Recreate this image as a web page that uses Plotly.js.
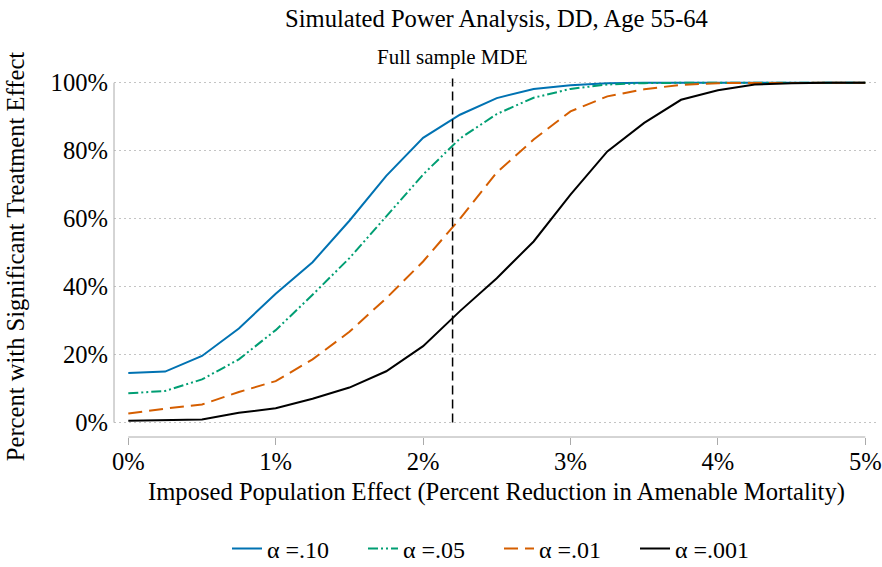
<!DOCTYPE html>
<html>
<head>
<meta charset="utf-8">
<script src="https://cdn.plot.ly/plotly-3.0.1.min.js"></script>
<style>html,body{margin:0;padding:0;background:#fff}#chart{width:882px;height:567px}</style>
</head>
<body>
<div id="chart"></div>
<script>
// Imposed population effect (percent reduction)
const effect = [0, 0.25, 0.5, 0.75, 1, 1.25, 1.5, 1.75, 2, 2.25, 2.5, 2.75, 3, 3.25, 3.5, 3.75, 4, 4.25, 4.5, 4.75, 5];
// Percent with significant treatment effect
const alpha10  = [14.6, 15.0, 19.6, 27.7, 37.9, 47.2, 59.4, 72.6, 83.8, 90.6, 95.5, 98.2, 99.3, 99.9, 100, 100, 100, 100, 100, 100, 100];
const alpha05  = [8.6, 9.3, 12.7, 18.6, 27.2, 37.6, 48.4, 60.7, 73.0, 83.6, 90.8, 95.6, 98.2, 99.5, 99.9, 100, 100, 100, 100, 100, 100];
const alpha01  = [2.65, 4.1, 5.3, 9.0, 12.2, 18.6, 26.7, 36.6, 47.4, 60.0, 73.6, 83.3, 91.6, 96.0, 98.1, 99.4, 99.9, 100, 100, 100, 100];
const alpha001 = [0.5, 0.6, 0.9, 2.9, 4.2, 7.0, 10.3, 15.1, 22.5, 32.8, 42.5, 53.3, 67.1, 79.8, 88.2, 95.0, 97.8, 99.5, 99.9, 100, 100];
const seriesNames = ['α =.10', 'α =.05', 'α =.01', 'α =.001'];
const mde = 2.2;
const mdeLabel = 'Full sample MDE';
const xTicks = [0, 1, 2, 3, 4, 5];
const yTicks = [0, 20, 40, 60, 80, 100];

const xRange = [-0.097, 5.093];
const yRange = [-4.25, 102];
const font = '"Liberation Serif", serif';
const fs = 24.6;

const px = v => (v - xRange[0]) / (xRange[1] - xRange[0]);
const py = v => (v - yRange[0]) / (yRange[1] - yRange[0]);

const traces = [
  {x: effect, y: alpha10, name: seriesNames[0], line: {color: '#0072B2', width: 2, dash: 'solid'}},
  {x: effect, y: alpha05, name: seriesNames[1], line: {color: '#009E73', width: 2, dash: '10px,3px,2px,3px,2px,3px'}},
  {x: effect, y: alpha01, name: seriesNames[2], line: {color: '#D55E00', width: 2, dash: '14px,7px'}},
  {x: effect, y: alpha001, name: seriesNames[3], line: {color: '#000000', width: 2, dash: 'solid'}}
].map(t => Object.assign({type: 'scatter', mode: 'lines', hoverinfo: 'skip'}, t));

const layout = {
  width: 882, height: 567,
  margin: {l: 114, r: 3, t: 76, b: 130, pad: 0},
  paper_bgcolor: '#fff', plot_bgcolor: '#fff',
  font: {family: font, size: fs, color: '#000'},
  title: {text: 'Simulated Power Analysis, DD, Age 55-64', font: {family: font, size: fs, color: '#000'},
          x: 0.5, xref: 'paper', xanchor: 'center', y: 1 - 18/567, yref: 'container', yanchor: 'middle'},
  xaxis: {
    range: xRange, tickvals: xTicks, ticktext: xTicks.map(v => v + '%'),
    showgrid: false, zeroline: false, showline: false,
    ticks: 'outside', ticklen: 7, tickwidth: 1, tickcolor: '#aaaaaa', ticklabelstandoff: -5,
    tickfont: {family: font, size: fs, color: '#000'},
    title: {text: 'Imposed Population Effect (Percent Reduction in Amenable Mortality)', font: {family: font, size: fs, color: '#000'}, standoff: 9},
    automargin: false, fixedrange: true
  },
  yaxis: {
    range: yRange, tickvals: yTicks, ticktext: yTicks.map(v => v + '%'),
    showgrid: true, gridcolor: '#c4c4c4', gridwidth: 1, griddash: '1.5px,3.5px',
    zeroline: false, showline: false, ticks: '', ticklabelstandoff: 5,
    tickfont: {family: font, size: fs, color: '#000'},
    title: {text: 'Percent with Significant Treatment Effect', font: {family: font, size: fs, color: '#000'}, standoff: 18},
    automargin: false, fixedrange: true
  },
  showlegend: true,
  legend: {
    orientation: 'h', xref: 'container', yref: 'container',
    x: 499/882, xanchor: 'center', y: (567-549)/567, yanchor: 'middle',
    font: {family: font, size: 24, color: '#000'},
    entrywidth: 91, entrywidthmode: 'pixels', bgcolor: 'rgba(0,0,0,0)', borderwidth: 0
  },
  shapes: [
    {type: 'line', xref: 'paper', yref: 'paper', x0: px(0), x1: px(5), y0: 0, y1: 0, line: {color: '#aaaaaa', width: 1}},
    {type: 'line', xref: 'paper', yref: 'paper', x0: 0, x1: 0, y0: py(0), y1: py(100), line: {color: '#aaaaaa', width: 1}},
    {type: 'line', xref: 'x', yref: 'y', x0: mde, x1: mde, y0: 0, y1: 101.3, line: {color: '#000', width: 1.5, dash: '9px,5px'}}
  ],
  annotations: [
    {text: mdeLabel, xref: 'x', yref: 'paper', x: mde, y: py(107.5), xanchor: 'center', yanchor: 'middle', showarrow: false,
     font: {family: font, size: 21, color: '#000'}}
  ]
};

Plotly.newPlot('chart', traces, layout, {displayModeBar: false, staticPlot: true});
</script>
</body>
</html>
